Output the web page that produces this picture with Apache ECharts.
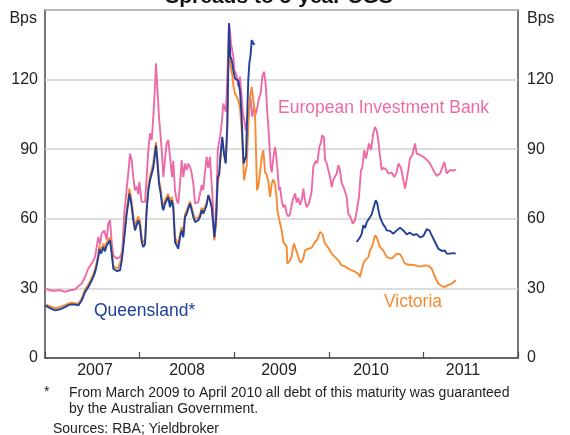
<!DOCTYPE html>
<html><head><meta charset="utf-8">
<script src="https://cdn.jsdelivr.net/npm/echarts@6/dist/echarts.min.js"></script>
<style>html,body{margin:0;padding:0;background:#fff}#c{width:570px;height:435px}</style>
</head><body><div id="c"></div>
<script>
const yearLabels = ['2007','2008','2009','2010','2011'];
const yTicks = [0,30,60,90,120,150];

const eibT = [2007.000,2007.053,2007.106,2007.159,2007.211,2007.264,2007.317,2007.349,2007.388,2007.423,2007.458,2007.494,2007.529,2007.563,2007.581,2007.599,2007.627,2007.652,2007.669,2007.687,2007.705,2007.722,2007.758,2007.793,2007.817,2007.838,2007.856,2007.881,2007.899,2007.917,2007.933,2007.951,2007.969,2007.986,2007.997,2008.022,2008.057,2008.075,2008.092,2008.110,2008.128,2008.145,2008.163,2008.173,2008.187,2008.205,2008.234,2008.251,2008.269,2008.286,2008.303,2008.314,2008.329,2008.343,2008.356,2008.374,2008.392,2008.409,2008.427,2008.445,2008.462,2008.480,2008.498,2008.515,2008.533,2008.551,2008.568,2008.586,2008.621,2008.639,2008.656,2008.673,2008.691,2008.709,2008.726,2008.744,2008.762,2008.779,2008.790,2008.808,2008.826,2008.850,2008.868,2008.885,2008.903,2008.913,2008.927,2008.945,2008.956,2008.966,2008.980,2008.991,2009.001,2009.016,2009.033,2009.043,2009.061,2009.079,2009.090,2009.107,2009.122,2009.139,2009.157,2009.174,2009.191,2009.209,2009.227,2009.244,2009.262,2009.280,2009.297,2009.315,2009.333,2009.350,2009.368,2009.386,2009.397,2009.413,2009.431,2009.442,2009.456,2009.474,2009.484,2009.502,2009.519,2009.537,2009.555,2009.572,2009.590,2009.618,2009.643,2009.661,2009.678,2009.696,2009.714,2009.731,2009.748,2009.766,2009.794,2009.819,2009.836,2009.862,2009.878,2009.900,2009.914,2009.931,2009.949,2009.960,2009.978,2009.995,2010.013,2010.031,2010.048,2010.084,2010.101,2010.118,2010.136,2010.153,2010.189,2010.206,2010.232,2010.253,2010.277,2010.298,2010.319,2010.340,2010.354,2010.375,2010.393,2010.411,2010.425,2010.446,2010.470,2010.488,2010.506,2010.523,2010.541,2010.559,2010.576,2010.594,2010.612,2010.629,2010.665,2010.692,2010.718,2010.735,2010.763,2010.788,2010.806,2010.824,2010.840,2010.858,2010.883,2010.897,2010.911,2010.929,2010.964,2010.999,2011.035,2011.070,2011.105,2011.141,2011.176,2011.194,2011.221,2011.246,2011.281,2011.317,2011.342];
const eibV = [29.9,29.2,29.0,29.3,28.5,29.2,29.5,30.9,32.0,34.9,38.6,40.8,43.5,52.2,49.0,53.6,55.0,51.0,57.9,59.4,50.0,44.2,42.8,43.5,46.0,62.2,70.0,80.0,88.1,85.0,78.0,72.3,74.0,70.5,75.9,67.3,67.3,78.0,89.6,96.8,94.0,104.0,117.0,127.0,117.0,104.0,89.6,78.0,86.0,92.5,94.0,89.6,83.8,78.0,85.0,72.3,68.0,66.6,75.2,85.3,78.0,83.8,81.0,83.8,82.4,79.5,75.2,66.6,67.3,70.9,74.5,72.3,80.0,86.7,82.0,86.7,75.0,63.7,52.1,58.0,89.6,95.3,101.0,109.7,110.5,106.0,121.2,144.3,141.0,135.6,136.0,130.0,124.1,123.0,120.5,117.0,121.2,113.0,106.0,102.5,98.0,103.0,106.8,112.0,104.0,108.0,105.0,108.0,112.0,114.0,121.2,123.4,118.0,106.0,95.3,82.4,80.0,86.0,91.0,88.0,82.0,72.3,73.7,68.0,65.0,66.0,62.2,61.0,62.0,68.0,70.9,67.0,69.0,66.0,68.0,73.0,68.0,65.0,67.0,72.0,82.4,85.0,84.0,91.0,92.5,96.0,95.0,85.3,84.0,81.0,78.0,73.7,77.0,79.5,83.1,81.0,75.2,74.0,69.4,62.2,60.5,57.9,59.4,64.0,69.4,81.0,82.0,89.6,86.0,89.6,92.5,89.6,96.8,99.6,98.0,93.9,87.0,81.0,82.0,82.5,81.0,79.5,80.0,78.0,80.0,83.8,82.0,76.6,73.0,77.0,81.0,86.0,87.5,88.0,92.5,88.1,87.5,86.7,85.5,83.8,81.0,78.4,79.5,80.0,84.5,79.5,81.0,80.8,81.2];

const qldT = [2007.000,2007.053,2007.106,2007.159,2007.211,2007.246,2007.282,2007.317,2007.352,2007.370,2007.388,2007.405,2007.423,2007.441,2007.458,2007.476,2007.494,2007.511,2007.529,2007.547,2007.563,2007.576,2007.589,2007.603,2007.616,2007.634,2007.652,2007.669,2007.687,2007.705,2007.722,2007.740,2007.758,2007.775,2007.793,2007.811,2007.828,2007.846,2007.864,2007.881,2007.891,2007.906,2007.917,2007.933,2007.951,2007.969,2007.986,2008.004,2008.022,2008.039,2008.057,2008.075,2008.092,2008.110,2008.128,2008.145,2008.163,2008.173,2008.187,2008.205,2008.223,2008.240,2008.251,2008.269,2008.286,2008.303,2008.321,2008.339,2008.356,2008.374,2008.392,2008.409,2008.427,2008.445,2008.462,2008.480,2008.498,2008.515,2008.533,2008.551,2008.568,2008.586,2008.604,2008.621,2008.639,2008.656,2008.673,2008.691,2008.709,2008.726,2008.744,2008.762,2008.779,2008.790,2008.808,2008.826,2008.840,2008.857,2008.874,2008.892,2008.910,2008.927,2008.937,2008.945,2008.959,2008.974,2008.991,2009.008,2009.026,2009.043,2009.061,2009.079,2009.090,2009.100,2009.114,2009.125,2009.139,2009.149,2009.160,2009.174,2009.185,2009.202,2009.213,2009.750,2010.295,2010.312,2010.330,2010.348,2010.365,2010.383,2010.401,2010.418,2010.436,2010.454,2010.471,2010.496,2010.513,2010.523,2010.541,2010.559,2010.576,2010.594,2010.612,2010.629,2010.647,2010.665,2010.682,2010.700,2010.718,2010.735,2010.753,2010.771,2010.788,2010.806,2010.824,2010.840,2010.858,2010.876,2010.893,2010.911,2010.929,2010.946,2010.964,2010.982,2010.999,2011.017,2011.035,2011.046,2011.063,2011.080,2011.105,2011.123,2011.141,2011.158,2011.176,2011.194,2011.211,2011.228,2011.246,2011.264,2011.281,2011.299,2011.317,2011.342];
const qldV = [22.7,21.5,20.5,21.0,21.9,22.8,23.1,23.0,22.7,23.5,24.8,26.5,28.4,29.5,30.6,32.0,33.5,35.0,37.0,40.0,43.5,47.0,45.0,46.0,47.8,46.0,48.5,49.0,50.7,45.0,38.5,37.8,37.5,37.5,37.8,42.0,47.8,55.0,62.2,67.0,70.9,68.0,65.0,59.4,55.0,55.0,59.4,57.0,50.0,47.8,49.0,63.7,72.0,76.6,76.6,82.0,88.1,91.7,85.0,75.2,70.9,65.1,63.7,66.6,67.3,69.4,65.0,68.0,65.0,50.0,50.7,47.1,52.0,55.0,52.0,60.8,62.2,64.5,66.6,63.7,60.8,58.6,57.9,59.4,60.8,63.7,62.2,64.0,66.0,70.2,68.0,65.0,57.9,52.1,60.0,78.0,79.0,88.1,95.3,88.0,83.8,100.0,125.0,144.3,130.0,128.4,124.0,120.5,120.0,119.5,115.0,104.0,92.0,83.8,83.5,87.0,106.8,120.0,127.0,131.0,137.0,137.0,134.9,null,50.0,49.5,52.0,53.5,57.2,56.0,58.5,59.0,60.8,62.0,64.5,68.0,66.5,64.0,60.8,59.0,57.5,56.5,55.0,55.8,54.8,54.0,53.6,54.2,55.0,55.8,56.2,56.0,55.0,54.3,53.3,53.8,54.0,53.6,53.0,53.0,53.4,52.8,52.0,51.5,52.5,54.0,55.5,55.3,55.0,53.5,51.5,50.0,48.5,47.1,46.6,46.2,46.0,46.3,45.0,44.2,45.0,44.8,45.2,45.0];

const vicT = [2007.000,2007.053,2007.106,2007.159,2007.211,2007.246,2007.282,2007.317,2007.352,2007.370,2007.388,2007.405,2007.423,2007.441,2007.458,2007.476,2007.494,2007.511,2007.529,2007.547,2007.563,2007.576,2007.589,2007.603,2007.616,2007.634,2007.652,2007.669,2007.687,2007.705,2007.722,2007.740,2007.758,2007.775,2007.793,2007.811,2007.828,2007.846,2007.864,2007.881,2007.891,2007.906,2007.917,2007.933,2007.951,2007.969,2007.986,2008.004,2008.022,2008.039,2008.057,2008.075,2008.092,2008.110,2008.128,2008.145,2008.163,2008.173,2008.187,2008.205,2008.223,2008.240,2008.251,2008.269,2008.286,2008.303,2008.321,2008.339,2008.356,2008.374,2008.392,2008.409,2008.427,2008.445,2008.462,2008.480,2008.498,2008.515,2008.533,2008.551,2008.568,2008.586,2008.604,2008.621,2008.639,2008.656,2008.673,2008.691,2008.709,2008.726,2008.744,2008.762,2008.779,2008.790,2008.808,2008.826,2008.840,2008.857,2008.874,2008.892,2008.910,2008.927,2008.937,2008.945,2008.956,2008.966,2008.980,2008.991,2009.008,2009.026,2009.043,2009.061,2009.079,2009.090,2009.104,2009.117,2009.132,2009.149,2009.167,2009.185,2009.202,2009.220,2009.230,2009.241,2009.255,2009.273,2009.291,2009.308,2009.326,2009.344,2009.361,2009.379,2009.397,2009.413,2009.431,2009.449,2009.456,2009.474,2009.484,2009.502,2009.519,2009.537,2009.555,2009.561,2009.574,2009.590,2009.608,2009.618,2009.632,2009.650,2009.667,2009.688,2009.703,2009.720,2009.731,2009.748,2009.783,2009.819,2009.854,2009.878,2009.907,2009.931,2009.960,2009.995,2010.031,2010.066,2010.101,2010.136,2010.171,2010.206,2010.242,2010.277,2010.295,2010.312,2010.330,2010.348,2010.365,2010.383,2010.418,2010.436,2010.454,2010.471,2010.488,2010.506,2010.523,2010.541,2010.576,2010.612,2010.629,2010.665,2010.682,2010.718,2010.753,2010.771,2010.788,2010.806,2010.840,2010.876,2010.911,2010.946,2010.982,2011.017,2011.052,2011.070,2011.088,2011.105,2011.123,2011.141,2011.158,2011.176,2011.194,2011.211,2011.228,2011.246,2011.264,2011.281,2011.299,2011.317,2011.342];
const vicV = [23.2,22.3,21.5,22.0,22.8,23.5,23.8,23.6,23.5,24.4,25.8,27.5,29.5,30.6,31.7,33.0,34.6,36.2,38.2,41.2,44.8,48.5,46.5,47.5,49.2,47.5,50.0,50.5,52.0,46.5,40.0,39.0,38.8,38.8,39.0,43.5,49.5,57.0,64.0,69.0,73.0,70.0,67.0,61.5,57.0,57.0,61.0,59.0,52.0,49.5,51.0,65.5,74.0,78.5,78.5,84.0,90.0,93.0,86.5,77.0,72.5,67.0,65.5,68.0,68.8,70.8,66.5,69.5,66.5,52.0,52.5,49.0,53.5,56.5,53.5,62.0,63.5,65.5,67.5,64.8,62.0,60.0,59.2,60.5,62.0,64.8,63.5,65.0,67.0,70.0,68.5,65.5,57.0,50.7,58.0,76.0,78.5,87.0,94.0,88.5,84.5,100.0,122.0,138.0,128.4,125.0,122.0,117.5,114.0,112.6,111.0,108.0,98.2,90.0,76.6,76.0,83.0,99.6,112.6,116.9,116.5,105.4,90.0,72.3,74.0,80.0,86.7,89.6,80.0,79.0,76.0,69.4,75.2,77.0,75.0,69.0,63.7,60.0,59.4,55.0,50.0,50.0,48.0,40.7,39.9,42.0,44.0,47.0,49.3,48.5,45.0,42.1,41.0,40.7,43.0,46.4,47.1,47.5,50.0,51.0,54.3,53.5,49.3,47.5,45.0,43.5,42.1,39.9,39.5,38.5,37.8,37.2,36.5,36.3,34.9,38.0,40.7,42.1,43.5,46.4,47.8,50.0,52.9,52.0,50.0,47.8,46.4,43.5,43.0,42.8,43.2,45.0,44.7,43.5,42.1,40.7,40.2,40.2,40.0,39.5,39.5,39.9,39.8,39.4,38.5,37.8,34.9,34.2,32.0,31.3,31.0,30.8,30.6,30.5,31.5,31.8,32.0,32.8,33.5];

function pairs(t, v) { return t.map((x, i) => [x, v[i]]); }

const FONT = '"Liberation Sans", Arial, sans-serif';
const chart = echarts.init(document.getElementById('c'), null, {renderer: 'canvas'});

chart.setOption({
  animation: false,
  backgroundColor: '#fff',
  textStyle: {fontFamily: FONT},
  grid: [
    {left: 45, right: 52, top: 10, bottom: 77, show: true, borderColor: '#4a4a4a', borderWidth: 1.5, backgroundColor: 'transparent'},
    {left: 49, right: 61, top: 10, bottom: 77, show: false}
  ],
  xAxis: [
    {type: 'category', gridIndex: 0, data: yearLabels, boundaryGap: true, position: 'bottom',
     axisLine: {show: true, lineStyle: {color: '#4a4a4a', width: 1.5}},
     axisTick: {show: true, inside: true, length: 6, lineStyle: {color: '#4a4a4a', width: 1.2}},
     axisLabel: {show: false},
     splitLine: {show: false}},
    {type: 'value', gridIndex: 0, min: 2007, max: 2012, show: false},
    {type: 'category', gridIndex: 1, data: yearLabels, boundaryGap: true, position: 'bottom',
     axisLine: {show: false}, axisTick: {show: false},
     axisLabel: {fontSize: 16, color: '#222', fontFamily: FONT, margin: 5},
     splitLine: {show: false}}
  ],
  yAxis: [
    {type: 'value', gridIndex: 0, min: 0, max: 150, interval: 30, position: 'left',
     axisLine: {show: false}, axisTick: {show: false},
     axisLabel: {fontSize: 16, color: '#222', fontFamily: FONT, margin: 7,
       formatter: v => (v === 150 ? '' : String(v))},
     splitLine: {show: true, lineStyle: {color: '#d2d2d2', width: 1.5}}},
    {type: 'value', gridIndex: 0, min: 0, max: 150, interval: 30, position: 'right',
     axisLine: {show: false}, axisTick: {show: false},
     axisLabel: {fontSize: 16, color: '#222', fontFamily: FONT, margin: 9,
       formatter: v => (v === 150 ? '' : String(v))},
     splitLine: {show: false}},
    {type: 'value', gridIndex: 1, min: 0, max: 150, show: false}
  ],
  series: [
    {name: 'European Investment Bank', type: 'line', xAxisIndex: 1, yAxisIndex: 0, data: pairs(eibT, eibV),
     showSymbol: false, lineStyle: {color: '#EE6AA7', width: 1.9}, itemStyle: {color: '#EE6AA7'}, connectNulls: false},
    {name: 'Victoria', type: 'line', xAxisIndex: 1, yAxisIndex: 0, data: pairs(vicT, vicV),
     showSymbol: false, lineStyle: {color: '#F68B33', width: 1.9}, itemStyle: {color: '#F68B33'}, connectNulls: false},
    {name: 'Queensland*', type: 'line', xAxisIndex: 1, yAxisIndex: 0, data: pairs(qldT, qldV),
     showSymbol: false, lineStyle: {color: '#20409A', width: 1.9}, itemStyle: {color: '#20409A'}, connectNulls: false}
  ],
  graphic: [
    {type: 'text', x: 279, y: -3, style: {text: 'Spreads to 5-year CGS', font: 'bold 21px ' + FONT, fill: '#111', align: 'center', verticalAlign: 'middle'}},
    {type: 'text', x: 37, y: 19, style: {text: 'Bps', font: '16px ' + FONT, fill: '#222', align: 'right', verticalAlign: 'middle'}},
    {type: 'text', x: 527, y: 19, style: {text: 'Bps', font: '16px ' + FONT, fill: '#222', align: 'left', verticalAlign: 'middle'}},
    {type: 'text', x: 278, y: 108, style: {text: 'European Investment Bank', font: '17.5px ' + FONT, fill: '#EE6AA7', align: 'left', verticalAlign: 'middle'}},
    {type: 'text', x: 94, y: 311, style: {text: 'Queensland*', font: '17.5px ' + FONT, fill: '#20409A', align: 'left', verticalAlign: 'middle'}},
    {type: 'text', x: 384, y: 302, style: {text: 'Victoria', font: '17.5px ' + FONT, fill: '#F68B33', align: 'left', verticalAlign: 'middle'}},
    {type: 'text', x: 44, y: 392, style: {text: '*', font: '14px ' + FONT, fill: '#222', align: 'left', verticalAlign: 'middle'}},
    {type: 'text', x: 69, y: 393, style: {text: 'From March 2009 to April 2010 all debt of this maturity was guaranteed', font: '14px ' + FONT, fill: '#222', align: 'left', verticalAlign: 'middle'}},
    {type: 'text', x: 69, y: 409, style: {text: 'by the Australian Government.', font: '14px ' + FONT, fill: '#222', align: 'left', verticalAlign: 'middle'}},
    {type: 'text', x: 53, y: 429, style: {text: 'Sources: RBA; Yieldbroker', font: '14px ' + FONT, fill: '#222', align: 'left', verticalAlign: 'middle'}}
  ]
});
</script>
</body></html>
